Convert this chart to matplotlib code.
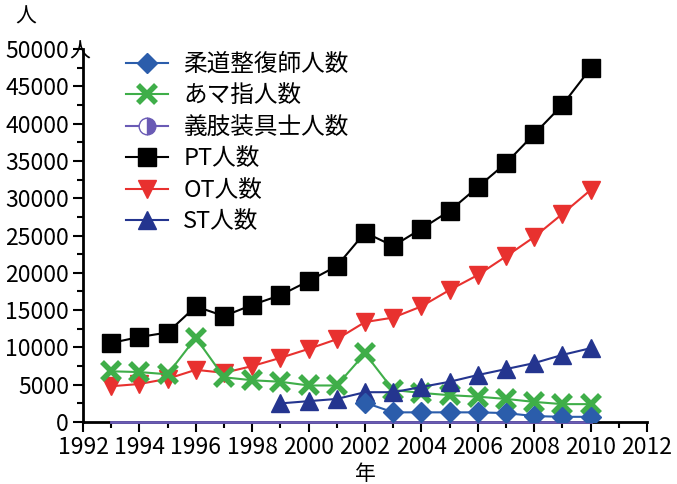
import matplotlib.pyplot as plt
from matplotlib.lines import Line2D
from matplotlib.ticker import MultipleLocator

plt.rcParams['font.family'] = ['Liberation Sans Narrow', 'Noto Sans CJK JP', 'DejaVu Sans']

years = list(range(1993, 2011))

judo_years = list(range(2002, 2011))
judo = [2600, 1300, 1300, 1300, 1300, 1200, 800, 700, 700]

amashi = [6800, 6700, 6400, 11300, 6000, 5600, 5400, 4900, 4900, 9200,
          4300, 3900, 3600, 3400, 3100, 2700, 2400, 2400]

gishi = [0] * len(years)

pt = [10600, 11400, 12000, 15500, 14200, 15700, 17000, 18900, 20900, 25400,
      23600, 25900, 28300, 31500, 34700, 38600, 42500, 47400]

ot = [4800, 5100, 5800, 7000, 6600, 7500, 8600, 9800, 11100, 13400,
      14000, 15500, 17700, 19700, 22200, 24800, 27900, 31100]

st_years = list(range(1999, 2011))
st = [2500, 2800, 3100, 4000, 4000, 4700, 5400, 6300, 7100, 7900, 9000, 9900]

labels = ['柔道整復師人数', 'あマ指人数', '義肢装具士人数', 'PT人数', 'OT人数', 'ST人数']

C_JUDO = '#2b5dab'
C_AMA = '#3fae49'
C_GISHI = '#6a5bb5'
C_PT = '#000000'
C_OT = '#e8312f'
C_ST = '#24358f'

fig = plt.figure(figsize=(6.77, 4.84), dpi=100)
ax = fig.add_axes([0.1226, 0.128, 0.8331, 0.7708])

ax.plot(years, gishi, color=C_GISHI, lw=2, zorder=3, clip_on=False)
ax.plot(years, pt, color=C_PT, lw=1.5, marker='s', ms=13, zorder=3)
ax.plot(years, ot, color=C_OT, lw=1.5, marker='v', ms=13, zorder=3)
ax.plot(years, amashi, color=C_AMA, lw=1.5, marker='x', ms=13, mew=4, zorder=3)
ax.plot(st_years, st, color=C_ST, lw=1.5, marker='^', ms=13, zorder=3)
ax.plot(judo_years, judo, color=C_JUDO, lw=1.5, marker='D', ms=10, zorder=4)

ax.set_xlim(1992, 2012)
ax.set_ylim(0, 50000)
ax.xaxis.set_major_locator(MultipleLocator(2))
ax.xaxis.set_minor_locator(MultipleLocator(1))
ax.yaxis.set_major_locator(MultipleLocator(5000))
ax.yaxis.set_minor_locator(MultipleLocator(2500))
ax.tick_params(axis='both', which='major', length=7, width=1.5, labelsize=16.5, pad=3)
ax.tick_params(axis='both', which='minor', length=4, width=1.5)
for s in ['top', 'right']:
    ax.spines[s].set_visible(False)
for s in ['left', 'bottom']:
    ax.spines[s].set_linewidth(2)

ax.set_xlabel('年', fontsize=15, labelpad=3)
fig.text(0.022, 0.965, '人', fontsize=15, ha='left', va='center')
fig.text(0.102, 0.893, '人', fontsize=15, ha='left', va='center')

handles = [
    Line2D([], [], color=C_JUDO, lw=1.5, marker='D', ms=10),
    Line2D([], [], color=C_AMA, lw=1.5, marker='x', ms=13, mew=4),
    Line2D([], [], color=C_GISHI, lw=1.5, marker='o', ms=12, fillstyle='right',
           markerfacecoloralt='white'),
    Line2D([], [], color=C_PT, lw=1.5, marker='s', ms=13),
    Line2D([], [], color=C_OT, lw=1.5, marker='v', ms=13),
    Line2D([], [], color=C_ST, lw=1.5, marker='^', ms=13),
]
fig.legend(handles, labels, loc='upper left', bbox_to_anchor=(0.168, 0.915),
           frameon=False, fontsize=17, handlelength=1.8, handletextpad=0.65,
           labelspacing=0.36, borderpad=0)

fig.savefig('out.png', dpi=100)
